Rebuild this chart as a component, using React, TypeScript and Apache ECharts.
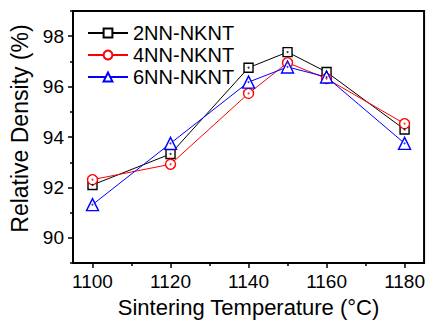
import React, { useEffect, useRef } from "react";
import * as echarts from "echarts";

const temps = [1100, 1120, 1140, 1150, 1160, 1180];
const nn2 = [92.1, 93.33, 96.75, 97.37, 96.58, 94.3];
const nn4 = [92.31, 92.92, 95.73, 96.95, 96.32, 94.53];
const nn6 = [91.32, 93.75, 96.18, 96.78, 96.38, 93.75];

const seriesNames = ["2NN-NKNT", "4NN-NKNT", "6NN-NKNT"];
const xMajor = [1100, 1120, 1140, 1160, 1180];
const xMinor = [1110, 1130, 1150, 1170];
const yMajor = [90, 92, 94, 96, 98];
const yMinor = [89, 91, 93, 95, 97, 99];

const FONT = "'Liberation Sans', Arial, Helvetica, sans-serif";

export default function App() {
  const ref = useRef<HTMLDivElement>(null);
  useEffect(() => {
    if (!ref.current) return;
    const chart = echarts.init(ref.current, null, { renderer: "svg" });
    const pairs = (ys: number[]) => temps.map((t, i) => [t, ys[i]]);
    const defs = [
      { name: seriesNames[0], data: nn2, color: "#000000", symbol: "rect", size: 9 },
      { name: seriesNames[1], data: nn4, color: "#ff0000", symbol: "circle", size: 10 },
      { name: seriesNames[2], data: nn6, color: "#0000ff", symbol: "triangle", size: 12 },
    ];
    const lineSeries = defs.map((d) => ({
      type: "line",
      name: d.name,
      data: pairs(d.data),
      symbol: d.symbol,
      symbolSize: d.size,
      showAllSymbol: true,
      lineStyle: { color: d.color, width: 1 },
      itemStyle: { color: "#ffffff", borderColor: d.color, borderWidth: 1.4 },
      z: 3,
    }));
    const dotSeries = defs.map((d) => ({
      type: "scatter",
      name: d.name + " dot",
      data: pairs(d.data),
      symbol: "circle",
      symbolSize: 2,
      itemStyle: { color: d.color },
      z: 4,
      silent: true,
    }));
    chart.setOption({
      animation: false,
      backgroundColor: "#ffffff",
      grid: {
        left: 73,
        right: 2,
        top: 11,
        bottom: 55,
        show: true,
        borderColor: "#000",
        borderWidth: 2,
        backgroundColor: "transparent",
      },
      legend: {
        data: seriesNames,
        orient: "vertical",
        left: 82,
        top: 18,
        itemWidth: 40,
        itemHeight: 11,
        itemGap: 2,
        textStyle: { fontFamily: FONT, fontSize: 20, color: "#000" },
      },
      xAxis: [
        {
          type: "value",
          min: 1095,
          max: 1185,
          name: "Sintering Temperature (°C)",
          nameLocation: "middle",
          nameGap: 31,
          nameTextStyle: { fontFamily: FONT, fontSize: 22, color: "#000" },
          axisLine: { show: true, onZero: false, lineStyle: { color: "#000", width: 2 } },
          axisTick: { show: true, customValues: xMajor, length: 5, lineStyle: { color: "#000", width: 1.5 } },
          axisLabel: {
            customValues: xMajor,
            margin: 9,
            fontFamily: FONT,
            fontSize: 19,
            color: "#000",
            formatter: (v: number) => String(v),
          },
          splitLine: { show: false },
        },
        {
          type: "value",
          min: 1095,
          max: 1185,
          position: "bottom",
          axisLine: { show: false },
          axisTick: { show: true, customValues: xMinor, length: 3, lineStyle: { color: "#000", width: 1.5 } },
          axisLabel: { show: false },
          splitLine: { show: false },
        },
      ],
      yAxis: [
        {
          type: "value",
          min: 89,
          max: 99,
          name: "Relative Density (%)",
          nameLocation: "middle",
          nameGap: 40,
          nameTextStyle: { fontFamily: FONT, fontSize: 23, color: "#000", padding: [0, 0, 0, 17] },
          axisLine: { show: true, onZero: false, lineStyle: { color: "#000", width: 2 } },
          axisTick: { show: true, customValues: yMajor, length: 5, lineStyle: { color: "#000", width: 1.5 } },
          axisLabel: {
            customValues: yMajor,
            margin: 9,
            fontFamily: FONT,
            fontSize: 19,
            color: "#000",
            formatter: (v: number) => String(v),
          },
          splitLine: { show: false },
        },
        {
          type: "value",
          min: 89,
          max: 99,
          position: "left",
          axisLine: { show: false },
          axisTick: { show: true, customValues: yMinor, length: 3, lineStyle: { color: "#000", width: 1.5 } },
          axisLabel: { show: false },
          splitLine: { show: false },
        },
      ],
      series: [...lineSeries, ...dotSeries],
    });
    return () => chart.dispose();
  }, []);
  return <div ref={ref} style={{ width: 428, height: 323, position: "absolute", left: 0, top: 0 }} />;
}
